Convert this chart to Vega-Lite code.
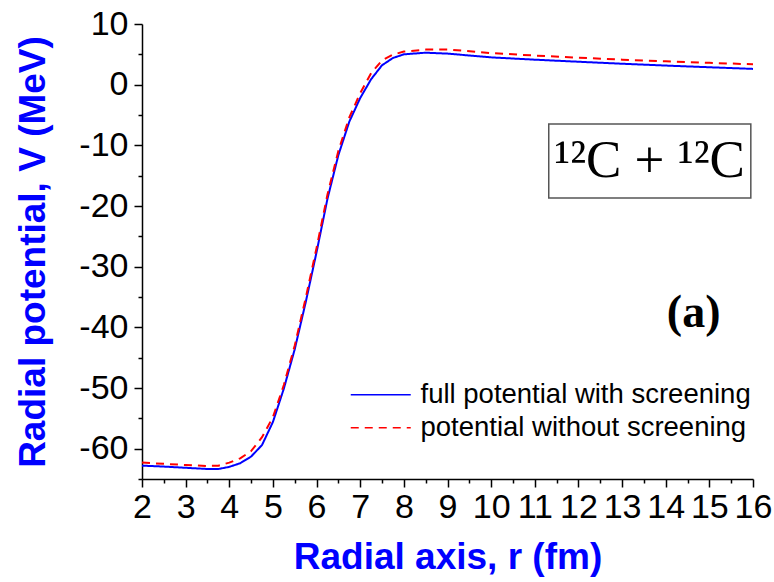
{
  "$schema": "https://vega.github.io/schema/vega-lite/v6.json",
  "autosize": "none",
  "padding": {"left": 142, "top": 24, "right": 21, "bottom": 103},
  "width": 611,
  "height": 455,
  "background": "white",
  "config": {
    "view": {"stroke": null},
    "font": "Liberation Sans"
  },
  "datasets": {
    "curves": [
      {"r": 2.0, "V": -62.8, "series": "full potential with screening"},
      {"r": 2.5, "V": -62.95, "series": "full potential with screening"},
      {"r": 3.0, "V": -63.15, "series": "full potential with screening"},
      {"r": 3.5, "V": -63.35, "series": "full potential with screening"},
      {"r": 3.75, "V": -63.35, "series": "full potential with screening"},
      {"r": 4.0, "V": -63.0, "series": "full potential with screening"},
      {"r": 4.25, "V": -62.4, "series": "full potential with screening"},
      {"r": 4.5, "V": -61.3, "series": "full potential with screening"},
      {"r": 4.75, "V": -59.4, "series": "full potential with screening"},
      {"r": 5.0, "V": -55.6, "series": "full potential with screening"},
      {"r": 5.25, "V": -50.1, "series": "full potential with screening"},
      {"r": 5.5, "V": -43.6, "series": "full potential with screening"},
      {"r": 5.75, "V": -35.9, "series": "full potential with screening"},
      {"r": 6.0, "V": -27.6, "series": "full potential with screening"},
      {"r": 6.25, "V": -18.8, "series": "full potential with screening"},
      {"r": 6.5, "V": -11.6, "series": "full potential with screening"},
      {"r": 6.75, "V": -6.1, "series": "full potential with screening"},
      {"r": 7.0, "V": -2.2, "series": "full potential with screening"},
      {"r": 7.25, "V": 0.9, "series": "full potential with screening"},
      {"r": 7.5, "V": 3.2, "series": "full potential with screening"},
      {"r": 7.75, "V": 4.4, "series": "full potential with screening"},
      {"r": 8.0, "V": 5.0, "series": "full potential with screening"},
      {"r": 8.5, "V": 5.27, "series": "full potential with screening"},
      {"r": 9.0, "V": 5.12, "series": "full potential with screening"},
      {"r": 10.0, "V": 4.5, "series": "full potential with screening"},
      {"r": 11.0, "V": 4.12, "series": "full potential with screening"},
      {"r": 12.0, "V": 3.78, "series": "full potential with screening"},
      {"r": 13.0, "V": 3.45, "series": "full potential with screening"},
      {"r": 14.0, "V": 3.15, "series": "full potential with screening"},
      {"r": 15.0, "V": 2.87, "series": "full potential with screening"},
      {"r": 16.0, "V": 2.6, "series": "full potential with screening"},
      {"r": 2.0, "V": -62.3, "series": "potential without screening"},
      {"r": 2.5, "V": -62.5, "series": "potential without screening"},
      {"r": 3.0, "V": -62.7, "series": "potential without screening"},
      {"r": 3.5, "V": -62.85, "series": "potential without screening"},
      {"r": 3.75, "V": -62.8, "series": "potential without screening"},
      {"r": 4.0, "V": -62.3, "series": "potential without screening"},
      {"r": 4.25, "V": -61.6, "series": "potential without screening"},
      {"r": 4.5, "V": -60.4, "series": "potential without screening"},
      {"r": 4.75, "V": -58.1, "series": "potential without screening"},
      {"r": 5.0, "V": -54.8, "series": "potential without screening"},
      {"r": 5.25, "V": -49.5, "series": "potential without screening"},
      {"r": 5.5, "V": -43.0, "series": "potential without screening"},
      {"r": 5.75, "V": -35.2, "series": "potential without screening"},
      {"r": 6.0, "V": -26.9, "series": "potential without screening"},
      {"r": 6.25, "V": -18.1, "series": "potential without screening"},
      {"r": 6.5, "V": -10.9, "series": "potential without screening"},
      {"r": 6.75, "V": -5.4, "series": "potential without screening"},
      {"r": 7.0, "V": -1.4, "series": "potential without screening"},
      {"r": 7.25, "V": 1.9, "series": "potential without screening"},
      {"r": 7.5, "V": 4.0, "series": "potential without screening"},
      {"r": 7.75, "V": 4.95, "series": "potential without screening"},
      {"r": 8.0, "V": 5.45, "series": "potential without screening"},
      {"r": 8.5, "V": 5.78, "series": "potential without screening"},
      {"r": 9.0, "V": 5.8, "series": "potential without screening"},
      {"r": 10.0, "V": 5.2, "series": "potential without screening"},
      {"r": 11.0, "V": 4.8, "series": "potential without screening"},
      {"r": 12.0, "V": 4.45, "series": "potential without screening"},
      {"r": 13.0, "V": 4.12, "series": "potential without screening"},
      {"r": 14.0, "V": 3.85, "series": "potential without screening"},
      {"r": 15.0, "V": 3.6, "series": "potential without screening"},
      {"r": 16.0, "V": 3.36, "series": "potential without screening"}
    ],
    "box": [{"x1": 11.32, "x2": 15.95, "y1": -6.47, "y2": -18.67}],
    "labels": [
      {"x": 13.63, "y": -12.6, "t": "¹²C + ¹²C", "kind": "reaction"},
      {"x": 14.64, "y": -37.6, "t": "(a)", "kind": "panel"}
    ]
  },
  "resolve": {"axis": {"x": "independent", "y": "independent"}},
  "layer": [
    {
      "data": {"name": "curves"},
      "mark": {"type": "line", "strokeWidth": 2, "clip": true},
      "encoding": {
        "x": {
          "field": "r", "type": "quantitative",
          "scale": {"domain": [2, 16], "nice": false, "zero": false},
          "axis": {
            "orient": "bottom",
            "title": "Radial axis, r (fm)",
            "titleFont": "Liberation Sans", "titleFontSize": 37, "titleFontWeight": "bold", "titleColor": "#0000ff",
            "titlePadding": 15,
            "values": [2, 3, 4, 5, 6, 7, 8, 9, 10, 11, 12, 13, 14, 15, 16],
            "labelOverlap": false, "labelFlush": false, "labelBound": false,
            "labelFontSize": 34, "labelColor": "black", "labelPadding": 3,
            "tickSize": 8, "tickColor": "black", "tickWidth": 1.5,
            "domainColor": "black", "domainWidth": 1.5,
            "grid": false
          }
        },
        "y": {
          "field": "V", "type": "quantitative",
          "scale": {"domain": [-65, 10], "nice": false, "zero": false},
          "axis": {
            "orient": "left",
            "title": "Radial potential, V (MeV)",
            "titleFont": "Liberation Sans", "titleFontSize": 37, "titleFontWeight": "bold", "titleColor": "#0000ff",
            "titlePadding": 26,
            "values": [-60, -50, -40, -30, -20, -10, 0, 10],
            "labelExpr": "replace(datum.label, '−', '-')",
            "labelOverlap": false, "labelFlush": false, "labelBound": false,
            "labelFontSize": 34, "labelColor": "black", "labelPadding": 6,
            "tickSize": 8, "tickColor": "black", "tickWidth": 1.5,
            "domainColor": "black", "domainWidth": 1.5,
            "grid": false
          }
        },
        "color": {
          "field": "series", "type": "nominal",
          "scale": {"domain": ["full potential with screening", "potential without screening"], "range": ["#0000ff", "#ff0000"]},
          "legend": {
            "title": null, "orient": "none", "legendX": 225, "legendY": 357,
            "padding": 0, "labelFontSize": 27.5, "labelFont": "Liberation Sans", "labelColor": "black",
            "symbolType": "M-3,0H3", "symbolSize": 400, "symbolStrokeWidth": 1.5,
            "labelOffset": 26, "rowPadding": 4,
            "labelLimit": 500
          }
        },
        "strokeDash": {
          "field": "series", "type": "nominal",
          "scale": {"domain": ["full potential with screening", "potential without screening"], "range": [[1, 0], [8, 6]]},
          "legend": {
            "title": null, "orient": "none", "legendX": 225, "legendY": 357,
            "padding": 0, "labelFontSize": 27.5, "labelFont": "Liberation Sans", "labelColor": "black",
            "symbolType": "M-3,0H3", "symbolSize": 400, "symbolStrokeWidth": 1.5,
            "labelOffset": 26, "rowPadding": 4,
            "labelLimit": 500
          }
        }
      }
    },
    {
      "data": {"name": "box"},
      "mark": {"type": "point", "opacity": 0},
      "encoding": {
        "x": {
          "field": "x1", "type": "quantitative",
          "axis": {
            "orient": "bottom", "title": null, "labels": false, "domain": false, "grid": false,
            "values": [2.5, 3.5, 4.5, 5.5, 6.5, 7.5, 8.5, 9.5, 10.5, 11.5, 12.5, 13.5, 14.5, 15.5],
            "tickSize": 4, "tickColor": "black", "tickWidth": 1.5
          }
        },
        "y": {
          "field": "y1", "type": "quantitative",
          "axis": {
            "orient": "left", "title": null, "labels": false, "domain": false, "grid": false,
            "values": [-65, -55, -45, -35, -25, -15, -5, 5],
            "tickSize": 4, "tickColor": "black", "tickWidth": 1.5
          }
        }
      }
    },
    {
      "data": {"name": "box"},
      "mark": {"type": "rect", "fill": "white", "fillOpacity": 0, "stroke": "#555555", "strokeWidth": 1.5},
      "encoding": {
        "x": {"field": "x1", "type": "quantitative", "axis": null},
        "x2": {"field": "x2"},
        "y": {"field": "y1", "type": "quantitative", "axis": null},
        "y2": {"field": "y2"}
      }
    },
    {
      "data": {"name": "labels"},
      "transform": [{"filter": "datum.kind === 'reaction'"}],
      "mark": {"type": "text", "font": "Liberation Serif", "fontSize": 53, "color": "black", "align": "center", "baseline": "middle"},
      "encoding": {
        "x": {"field": "x", "type": "quantitative", "axis": null},
        "y": {"field": "y", "type": "quantitative", "axis": null},
        "text": {"field": "t"}
      }
    },
    {
      "data": {"name": "labels"},
      "transform": [{"filter": "datum.kind === 'panel'"}],
      "mark": {"type": "text", "font": "Liberation Serif", "fontSize": 46, "fontWeight": "bold", "color": "black", "align": "center", "baseline": "middle"},
      "encoding": {
        "x": {"field": "x", "type": "quantitative", "axis": null},
        "y": {"field": "y", "type": "quantitative", "axis": null},
        "text": {"field": "t"}
      }
    }
  ]
}
